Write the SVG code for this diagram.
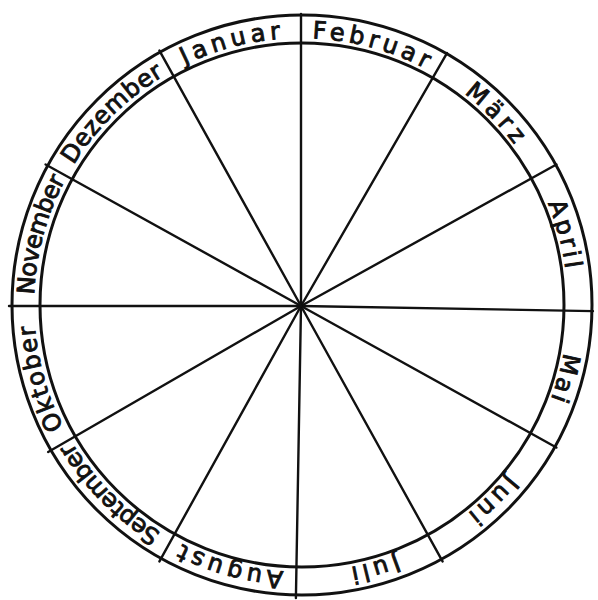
<svg xmlns="http://www.w3.org/2000/svg" xmlns:xlink="http://www.w3.org/1999/xlink" width="598" height="600" viewBox="0 0 598 600">
<style>
.ln{stroke:#111;stroke-width:2.4;fill:none;stroke-linecap:round}
.ring{stroke:#111;stroke-width:3;fill:none}
.m{font-family:"DejaVu Sans",sans-serif;font-size:24px;fill:#111;stroke:#111;stroke-width:0.9;text-anchor:middle}
</style>
<defs>
<path id="tp" d="M301,38 A267,267 0 0 1 301,572 A267,267 0 0 1 301,38"/>
</defs>
<rect width="598" height="600" fill="#fff"/>
<g id="connectors">
<g transform="translate(301,306)">
<line class="ln" x1="0" y1="0" x2="0" y2="-292"/>
<line class="ln" x1="0" y1="0" x2="0" y2="-292" transform="rotate(30)"/>
<line class="ln" x1="0" y1="0" x2="0" y2="-292" transform="rotate(61)"/>
<line class="ln" x1="0" y1="0" x2="0" y2="-292" transform="rotate(91)"/>
<line class="ln" x1="0" y1="0" x2="0" y2="-292" transform="rotate(119)"/>
<line class="ln" x1="0" y1="0" x2="0" y2="-292" transform="rotate(151)"/>
<line class="ln" x1="0" y1="0" x2="0" y2="-292" transform="rotate(181)"/>
<line class="ln" x1="0" y1="0" x2="0" y2="-292" transform="rotate(209)"/>
<line class="ln" x1="0" y1="0" x2="0" y2="-292" transform="rotate(240)"/>
<line class="ln" x1="0" y1="0" x2="0" y2="-292" transform="rotate(270)"/>
<line class="ln" x1="0" y1="0" x2="0" y2="-292" transform="rotate(299)"/>
<line class="ln" x1="0" y1="0" x2="0" y2="-292" transform="rotate(331)"/>
</g>
</g>
<g id="wheel">
<circle class="ring" cx="302" cy="305" r="290"/>
<circle class="ring" cx="302" cy="305" r="262"/>
</g>
<g id="months">
<text class="m" id="februar"><textPath href="#tp" startOffset="4.2%" textLength="118" lengthAdjust="spacing">Februar</textPath></text>
<text class="m" id="maerz"><textPath href="#tp" startOffset="12.6%" textLength="72" lengthAdjust="spacing">März</textPath></text>
<text class="m" id="april"><textPath href="#tp" startOffset="20.8%" textLength="68" lengthAdjust="spacing">April</textPath></text>
<text class="m" id="mai"><textPath href="#tp" startOffset="29.3%" textLength="48" lengthAdjust="spacing">Mai</textPath></text>
<text class="m" id="juni"><textPath href="#tp" startOffset="37.6%" textLength="56" lengthAdjust="spacing">Juni</textPath></text>
<text class="m" id="juli"><textPath href="#tp" startOffset="45.6%" textLength="48" lengthAdjust="spacing">Juli</textPath></text>
<text class="m" id="august"><textPath href="#tp" startOffset="54.2%" textLength="106" lengthAdjust="spacing">August</textPath></text>
<text class="m" id="september"><textPath href="#tp" startOffset="62.6%" textLength="128" lengthAdjust="spacing">September</textPath></text>
<text class="m" id="oktober"><textPath href="#tp" startOffset="70.6%" textLength="106" lengthAdjust="spacing">Oktober</textPath></text>
<text class="m" id="november"><textPath href="#tp" startOffset="79.2%" textLength="120" lengthAdjust="spacing">November</textPath></text>
<text class="m" id="dezember"><textPath href="#tp" startOffset="87.6%" textLength="128" lengthAdjust="spacing">Dezember</textPath></text>
<text class="m" id="januar"><textPath href="#tp" startOffset="95.8%" textLength="100" lengthAdjust="spacing">Januar</textPath></text>
</g>
</svg>
